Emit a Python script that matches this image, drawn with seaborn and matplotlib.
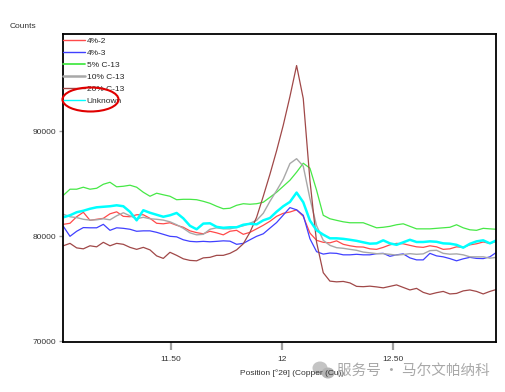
import numpy as np
import pandas as pd
import matplotlib
matplotlib.use("Agg")
import matplotlib.pyplot as plt
from matplotlib.patches import Ellipse
import seaborn as sns

# 2theta scan positions (deg)
two_theta = np.linspace(11.015, 12.965, 66)

counts_4_2 = [81140, 81240, 81860, 82290, 81520, 81620, 81710, 82140, 82330, 81900,
              81860, 82050, 82050, 81710, 81240, 81190, 81290, 81050, 80860, 80520,
              80350, 80240, 80480, 80330, 80140, 80480, 80570, 80190, 80380, 80710,
              81050, 81430, 81900, 82190, 82310, 82520, 81900, 80310, 79620, 79430,
              79380, 79570, 79240, 79100, 79000, 78980, 78810, 78760, 78950, 79190,
              79330, 79290, 79140, 79000, 78950, 79100, 79000, 78760, 78810, 79000,
              78950, 79190, 79290, 79460, 79330, 79520]
counts_4_3 = [80950, 80000, 80480, 80830, 80810, 80810, 81140, 80570, 80810, 80760,
              80670, 80480, 80520, 80520, 80380, 80190, 80000, 79950, 79670, 79520,
              79480, 79520, 79480, 79520, 79570, 79540, 79240, 79330, 79670, 80000,
              80240, 80780, 81310, 82020, 82730, 82520, 82000, 79770, 78540, 78310,
              78410, 78380, 78240, 78240, 78290, 78240, 78240, 78350, 78380, 78100,
              78240, 78330, 77950, 77760, 77760, 78380, 78140, 78050, 77880, 77670,
              77860, 78000, 77900, 77880, 78050, 78480]
counts_5_c13 = [83900, 84480, 84480, 84670, 84480, 84570, 84950, 85140, 84710, 84760,
                84860, 84670, 84190, 83810, 84100, 83950, 83810, 83480, 83520, 83520,
                83480, 83330, 83140, 82860, 82620, 82670, 82950, 83100, 83050, 83100,
                83240, 83710, 84190, 84760, 85330, 86100, 86950, 86480, 84380, 82000,
                81670, 81520, 81380, 81290, 81290, 81290, 81050, 80810, 80860, 80950,
                81100, 81190, 80950, 80710, 80710, 80710, 80760, 80810, 80860, 81100,
                80810, 80620, 80570, 80760, 80710, 80670]
counts_10_c13 = [82100, 81860, 81780, 81620, 81540, 81570, 81670, 81570, 81950, 82240,
                 81950, 81670, 81810, 81670, 81620, 81540, 81380, 81100, 80760, 80330,
                 80140, 80190, 80670, 80810, 80710, 80710, 80860, 81000, 81240, 81520,
                 82190, 83330, 84350, 85430, 86920, 87380, 86670, 83590, 81010, 79620,
                 79140, 78920, 78860, 78760, 78670, 78500, 78430, 78350, 78350, 78290,
                 78210, 78270, 78350, 78290, 78330, 78640, 78670, 78380, 78300, 78330,
                 78240, 78050, 78050, 78050, 77920, 78000]
counts_20_c13 = [79100, 79330, 78900, 78810, 79100, 79000, 79430, 79100, 79330, 79240,
                 78950, 78760, 78950, 78710, 78140, 77900, 78480, 78190, 77860, 77710,
                 77670, 77950, 78000, 78190, 78190, 78380, 78710, 79290, 80380, 81810,
                 83810, 85900, 88140, 90570, 93290, 96240, 93100, 85330, 79430, 76540,
                 75740, 75670, 75710, 75570, 75240, 75210, 75260, 75190, 75100, 75240,
                 75380, 75140, 74900, 75050, 74670, 74480, 74640, 74760, 74520, 74570,
                 74810, 74900, 74760, 74520, 74760, 74950]
counts_unknown = [81810, 82000, 82290, 82430, 82620, 82760, 82810, 82860, 82950, 82860,
                  82330, 81520, 82480, 82240, 82050, 81860, 82000, 82220, 81710, 81000,
                  80670, 81210, 81240, 80900, 80810, 80860, 80860, 81100, 81190, 81140,
                  81520, 81740, 82340, 82860, 83270, 84160, 83240, 81500, 80570, 80160,
                  79810, 79810, 79760, 79670, 79570, 79430, 79300, 79330, 79620, 79330,
                  79190, 79430, 79670, 79460, 79460, 79520, 79480, 79330, 79300, 79190,
                  78920, 79290, 79520, 79620, 79330, 79620]

series_names = ["4%-2", "4%-3", "5% C-13", "10% C-13", "20% C-13", "Unknown"]
series_counts = [counts_4_2, counts_4_3, counts_5_c13, counts_10_c13, counts_20_c13, counts_unknown]
series_colors = ["#ff4a4a", "#4040ff", "#46e846", "#a8a8a8", "#a04848", "#00ffff"]
series_widths = [0.9, 0.9, 0.9, 1.0, 0.9, 1.8]
legend_widths = [1.0, 1.0, 1.3, 1.8, 1.0, 1.0]

x_ticks = [11.5, 12.0, 12.5]
x_tick_labels = ["11.50", "12", "12.50"]
y_ticks = [70000, 80000, 90000]
y_tick_labels = ["70000", "80000", "90000"]

sns.set_theme(style="white")
plt.rcParams['font.family'] = ['Liberation Sans Narrow', 'Liberation Sans', 'DejaVu Sans']

fig = plt.figure(figsize=(5.05, 3.92), dpi=100)
ax = fig.add_axes([63 / 505, 1 - 342 / 392, 433 / 505, 308 / 392])

for name, vals, col, lw in zip(series_names, series_counts, series_colors, series_widths):
    df = pd.DataFrame({"pos": two_theta, "counts": vals})
    sns.lineplot(data=df, x="pos", y="counts", color=col, lw=lw, label=name, ax=ax)

ax.set_xlim(11.0135, 12.9626)
ax.set_ylim(69950, 99240)
ax.set_xticks(x_ticks)
ax.set_xticklabels(x_tick_labels)
ax.set_yticks(y_ticks)
ax.set_yticklabels(y_tick_labels)
ax.set_xlabel("")
ax.set_ylabel("")
ax.tick_params(axis="x", direction="out", length=6, width=1.6, color="#a0a0a0",
               labelsize=6, labelcolor="#333333", pad=4, bottom=True)
ax.tick_params(axis="y", direction="out", length=3, width=1.0, color="#a0a0a0",
               labelsize=6, labelcolor="#333333", pad=2, left=True)
for s in ax.spines.values():
    s.set_color("black")
    s.set_linewidth(1.3)

leg = ax.legend(loc="upper left", bbox_to_anchor=(0, 1 - 3 / 308), frameon=False,
                fontsize=6, handlelength=2.65, handletextpad=0.2, labelspacing=0.5,
                borderpad=0, borderaxespad=0)
for line, w in zip(leg.get_lines(), legend_widths):
    line.set_linewidth(w)

fig.text(10 / 505, 1 - 27 / 392, "Counts", fontsize=6, color="#333333", va="center")
fig.text(292 / 505, 1 - 373 / 392, "Position [°2θ] (Copper (Cu))", fontsize=6,
         color="#333333", ha="center", va="center")

# hand drawn red mark around "Unknown"
fig.patches.append(Ellipse((90.5 / 505, 1 - 99.5 / 392), 56 / 505, 24 / 392,
                           transform=fig.transFigure, fill=False, ec="#e00000", lw=1.5))

# watermark
fig.patches.append(Ellipse((320 / 505, 1 - 368 / 392), 15 / 505, 13 / 392,
                           transform=fig.transFigure, fc="#c4c4c4", ec="none"))
fig.patches.append(Ellipse((328 / 505, 1 - 373 / 392), 13 / 505, 11 / 392,
                           transform=fig.transFigure, fc="#b4b4b4", ec="none"))
fig.text(337 / 505, 1 - 371 / 392, "服务号 · 马尔文帕纳科", fontsize=10.5,
         color="#a8a8a8", va="center", ha="left",
         family=['Noto Sans CJK SC', 'DejaVu Sans'])

fig.savefig("out.png", dpi=100)
